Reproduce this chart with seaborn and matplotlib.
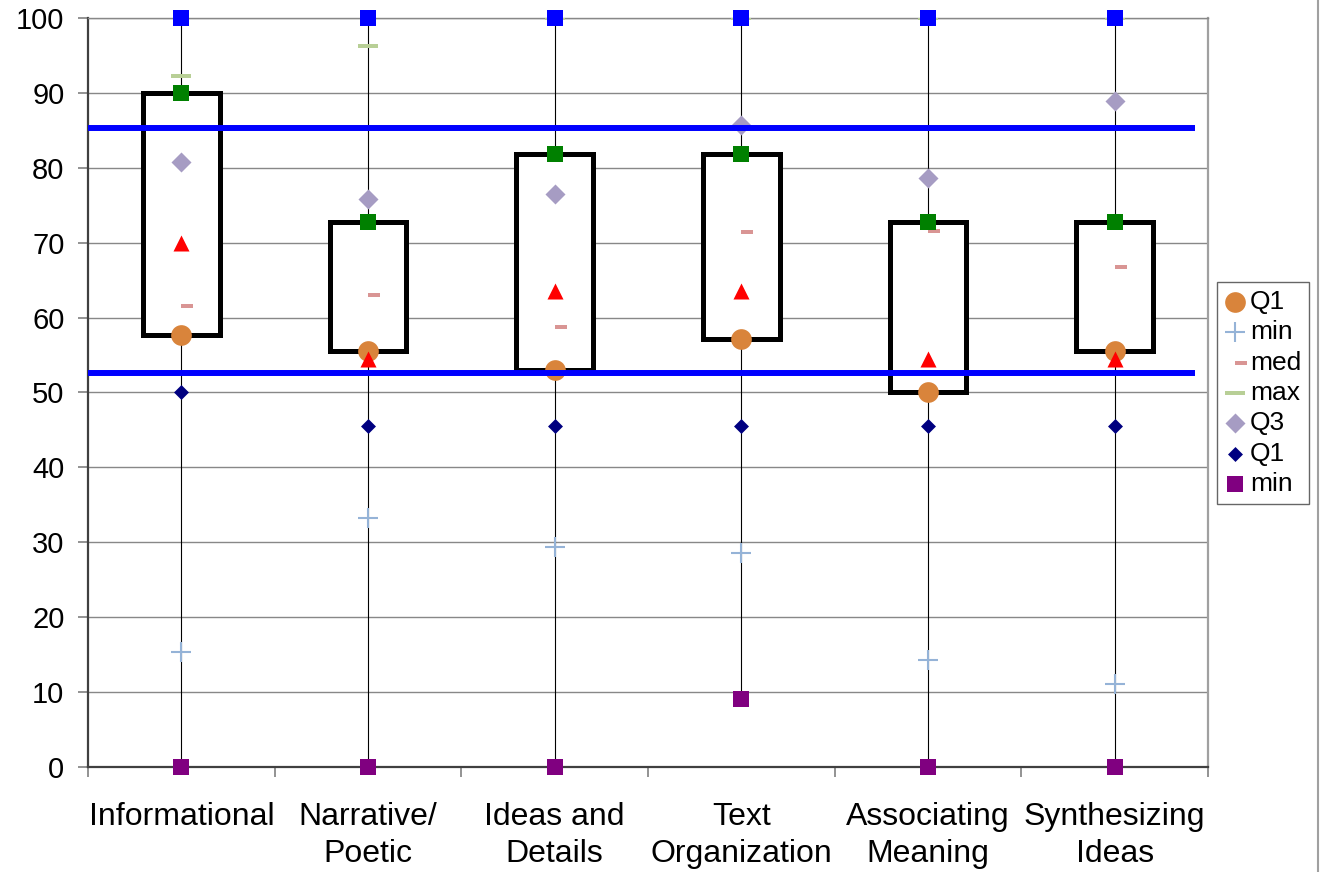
import matplotlib
matplotlib.use("Agg")
import matplotlib.pyplot as plt
from matplotlib.lines import Line2D
import seaborn as sns
import numpy as np
import pandas as pd

# data
categories = ["Informational", "Narrative/\nPoetic", "Ideas and\nDetails",
              "Text\nOrganization", "Associating\nMeaning", "Synthesizing\nIdeas"]
top_vals = [100, 100, 100, 100, 100, 100]          # blue squares
max_vals = [92.3, 96.3, 100, 100, 100, 100]        # green dash
box_top = [90.0, 72.8, 81.9, 81.9, 72.8, 72.8]     # green squares
q3_vals = [80.8, 75.9, 76.5, 85.7, 78.6, 88.9]     # lavender diamonds
mean_vals = [70.0, 54.5, 63.6, 63.6, 54.5, 54.5]   # red triangles
med_vals = [61.5, 63.0, 58.8, 71.4, 71.5, 66.7]    # pink dash
q1_vals = [57.7, 55.6, 53.0, 57.1, 50.0, 55.6]     # orange circles
q1_low = [50.0, 45.5, 45.5, 45.5, 45.5, 45.5]      # navy diamonds
min_plus = [15.4, 33.3, 29.4, 28.6, 14.3, 11.1]    # plus markers
min_vals = [0, 0, 0, 9.1, 0, 0]                    # purple squares
ref_lines = [85.3, 52.6]

x_pos = np.arange(len(categories))
df = pd.DataFrame({
    "x": x_pos, "top": top_vals, "max": max_vals, "box_top": box_top,
    "q3": q3_vals, "mean": mean_vals, "med": med_vals, "q1": q1_vals,
    "q1_low": q1_low, "min_plus": min_plus, "min": min_vals,
})

sns.set_style("white")
plt.rcParams["font.family"] = ["Liberation Sans", "DejaVu Sans"]
plt.rcParams["text.color"] = "black"
plt.rcParams["xtick.color"] = "black"
plt.rcParams["ytick.color"] = "black"

fig = plt.figure(figsize=(13.24, 8.72), dpi=100)
ax = fig.add_axes([88 / 1324, 1 - 767 / 872, 1120 / 1324, 749 / 872])

# gridlines
ax.set_yticks(range(0, 101, 10))
ax.yaxis.grid(True, color="#888888", linewidth=1.0, zorder=0)
ax.set_axisbelow(True)

# whiskers and boxes
ax.vlines(df["x"], df["min"], df["top"], color="black", linewidth=0.8, zorder=1)
ax.bar(df["x"], df["box_top"] - df["q1"], bottom=df["q1"], width=0.41,
       facecolor="white", edgecolor="black", linewidth=3.6, zorder=2)

# custom dash markers
max_dash = [(-1, -0.25), (1, -0.25), (1, 0.25), (-1, 0.25), (-1, -0.25)]
med_dash = [(0, -0.2), (1, -0.2), (1, 0.2), (0, 0.2), (0, -0.2)]

# legend series first, in legend order
sns.scatterplot(data=df, x="x", y="q1", marker="o", s=222, color="#d9843b",
                linewidth=0, label="Q1", ax=ax, zorder=4)
sns.scatterplot(data=df, x="x", y="min_plus", marker="+", s=190, color="#95b3d7",
                linewidth=1.5, label="min", ax=ax, zorder=4)
sns.scatterplot(data=df, x="x", y="med", marker=med_dash, s=283, color="#d99594",
                linewidth=0, label="med", ax=ax, zorder=4)
sns.scatterplot(data=df, x="x", y="max", marker=max_dash, s=207, color="#b8cf96",
                linewidth=0, label="max", ax=ax, zorder=3)
sns.scatterplot(data=df, x="x", y="q3", marker="D", s=104, color="#a69cc3",
                linewidth=0, label="Q3", ax=ax, zorder=4)
sns.scatterplot(data=df, x="x", y="q1_low", marker="D", s=58, color="#000080",
                linewidth=0, label="Q1", ax=ax, zorder=4)
sns.scatterplot(data=df, x="x", y="min", marker="s", s=117, color="#800080",
                linewidth=0, label="min", ax=ax, zorder=4, clip_on=False)

# series without legend entries
sns.scatterplot(data=df, x="x", y="top", marker="s", s=133, color="#0000ff",
                linewidth=0, ax=ax, zorder=4, clip_on=False)
sns.scatterplot(data=df, x="x", y="box_top", marker="s", s=133, color="#008000",
                linewidth=0, ax=ax, zorder=4)
sns.scatterplot(data=df, x="x", y="mean", marker="^", s=133, color="#ff0000",
                linewidth=0, ax=ax, zorder=5)

# reference lines
ax.hlines(ref_lines, -0.5, 5.43, color="#0000ff", linewidth=4.3, zorder=6)

# axes styling
ax.set_xlim(-0.5, 5.5)
ax.set_ylim(0, 100)
ax.set_xlabel("")
ax.set_ylabel("")
ax.set_xticks(x_pos)
ax.set_xticklabels(categories, linespacing=1.3)
ax.set_xticks(np.arange(-0.5, 5.6, 1), minor=True)
ax.tick_params(axis="x", which="major", length=0, pad=25, labelsize=23)
ax.tick_params(axis="x", which="minor", length=7, color="#808080", width=1.2,
               direction="out", bottom=True)
ax.tick_params(axis="y", length=7, color="#808080", width=1.2, left=True,
               direction="out", pad=10, labelsize=21)

for side in ["left", "bottom"]:
    ax.spines[side].set_color("#404040")
    ax.spines[side].set_linewidth(1.6)
ax.spines["top"].set_color("#888888")
ax.spines["top"].set_linewidth(1.0)
ax.spines["right"].set_color("#a0a0a0")
ax.spines["right"].set_linewidth(1.6)

leg = ax.legend(loc="center left", bbox_to_anchor=(1217 / 1324, 1 - 393 / 872),
                bbox_transform=fig.transFigure, fontsize=19, frameon=True,
                fancybox=False, edgecolor="#404040", handlelength=0.75,
                handletextpad=0.2, borderpad=0.3, labelspacing=0.24,
                borderaxespad=0)
leg.get_frame().set_linewidth(1.0)

# outer chart border on the right
fig.add_artist(Line2D([1318 / 1324, 1318 / 1324], [0, 1], color="#a0a0a0",
                      linewidth=1.5, transform=fig.transFigure))

fig.savefig("out.png", dpi=100, facecolor="white")
